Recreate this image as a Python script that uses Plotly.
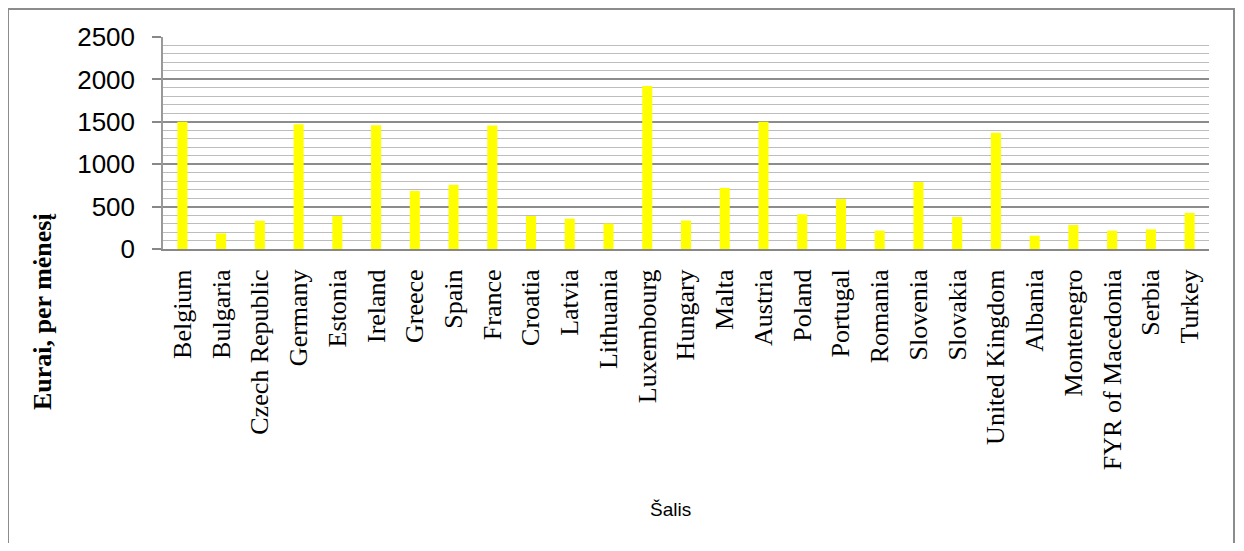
import plotly.graph_objects as go

countries = ["Belgium", "Bulgaria", "Czech Republic", "Germany", "Estonia", "Ireland",
             "Greece", "Spain", "France", "Croatia", "Latvia", "Lithuania", "Luxembourg",
             "Hungary", "Malta", "Austria", "Poland", "Portugal", "Romania", "Slovenia",
             "Slovakia", "United Kingdom", "Albania", "Montenegro", "FYR of Macedonia",
             "Serbia", "Turkey"]
values = [1501, 184, 333, 1470, 390, 1460, 684, 757, 1455, 389, 358, 300, 1923,
          335, 720, 1501, 410, 590, 216, 790, 378, 1371, 157, 283, 216, 232, 425]
y_ticks = [0, 500, 1000, 1500, 2000, 2500]

# page offset of the plotly div (default body margin)
OX, OY = 8, 8
W, H = 1228, 535
# target pixel positions (page coordinates)
L, R, T, B = 163, 1209, 37, 249
pw, ph = R - L, B - T

def px(x):
    return (x - L) / pw

def py(y):
    return (B - y) / ph

fig = go.Figure(go.Bar(x=countries, y=values, marker=dict(color="#FFFF00", line=dict(width=0)),
                       width=0.26))

fig.update_layout(
    width=W, height=H,
    margin=dict(l=L - OX, r=W - (R - OX), t=T - OY, b=H - (B - OY), pad=0),
    paper_bgcolor="white", plot_bgcolor="white",
    showlegend=False,
    xaxis=dict(
        tickangle=-90,
        tickfont=dict(family="Liberation Serif", size=26, color="black"),
        showgrid=False,
        showline=True, linecolor="#888888", linewidth=2,
        ticks="", ticklabelstandoff=8,
        range=[-0.5, len(countries) - 0.5],
    ),
    yaxis=dict(
        range=[0, 2500],
        tickvals=y_ticks,
        tickfont=dict(family="Liberation Sans", size=26, color="black"),
        showgrid=True, gridcolor="#8c8c8c", gridwidth=1.5,
        minor=dict(dtick=100, showgrid=True, gridcolor="#bdbdbd", gridwidth=1.2),
        showline=True, linecolor="#999999", linewidth=1.5,
        ticks="outside", ticklen=9, tickcolor="#888888", tickwidth=1.5,
        ticklabelstandoff=12,
        zeroline=False,
    ),
    annotations=[
        dict(text="<b>Eurai, per mėnesį</b>", xref="paper", yref="paper",
             x=px(42), y=py(312), textangle=-90, showarrow=False,
             xanchor="center", yanchor="middle",
             font=dict(family="Liberation Serif", size=26, color="black")),
        dict(text="Šalis", xref="paper", yref="paper",
             x=px(670), y=py(509), showarrow=False,
             xanchor="center", yanchor="middle",
             font=dict(family="Liberation Sans", size=19, color="black")),
    ],
    shapes=[
        dict(type="rect", xref="paper", yref="paper",
             x0=px(8), x1=px(1234), y0=py(560), y1=py(9),
             line=dict(color="#8c8c8c", width=2), layer="below"),
    ],
)

fig.write_html("out.html")
